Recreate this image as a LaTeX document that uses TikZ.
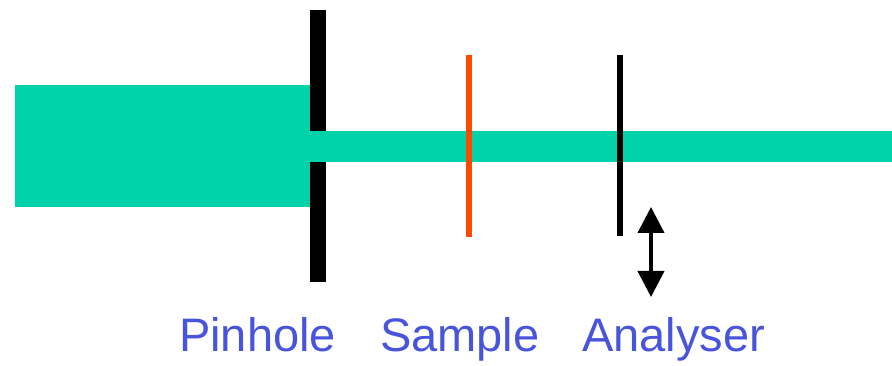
\documentclass[tikz,border=0pt]{standalone}
\usepackage{fontspec}
\setmainfont{Liberation Sans}
\usetikzlibrary{arrows.meta}
\definecolor{beam}{RGB}{0,210,170}
\definecolor{samplecol}{RGB}{255,72,0}
\definecolor{labelcol}{RGB}{72,84,220}
\tikzset{
  beamfill/.style={fill=beam},
  barfill/.style={fill=black},
  lbl/.style={anchor=base west,inner sep=0pt,text=labelcol,font=\fontsize{47}{56}\selectfont},
  movearrow/.style={line width=4pt,{Triangle[width=26pt,length=26pt]}-{Triangle[width=26pt,length=26pt]}}
}
\begin{document}
\begin{tikzpicture}[x=1pt,y=-1pt]
\useasboundingbox (0,0) rectangle (892,366);
% wide beam
\fill[beamfill] (15,85) rectangle (310,207);
% pinhole screen
\fill[barfill] (310,10) rectangle (326,282);
% narrow beam
\fill[beamfill] (310,131) rectangle (892,162);
% sample
\fill[samplecol] (466,55) rectangle (472,237);
% analyser
\fill[barfill] (617,55) rectangle (623,236);
% movement arrow
\coordinate (atop) at (651,207);
\coordinate (abot) at (651,297);
\draw[movearrow] (atop) -- (abot);
% labels
\node[lbl] (pinhole) at (179,351) {Pinhole};
\node[lbl] (sample) at (380,351) {Sample};
\node[lbl] (analyser) at (582,351) {Analyser};
\end{tikzpicture}
\end{document}
